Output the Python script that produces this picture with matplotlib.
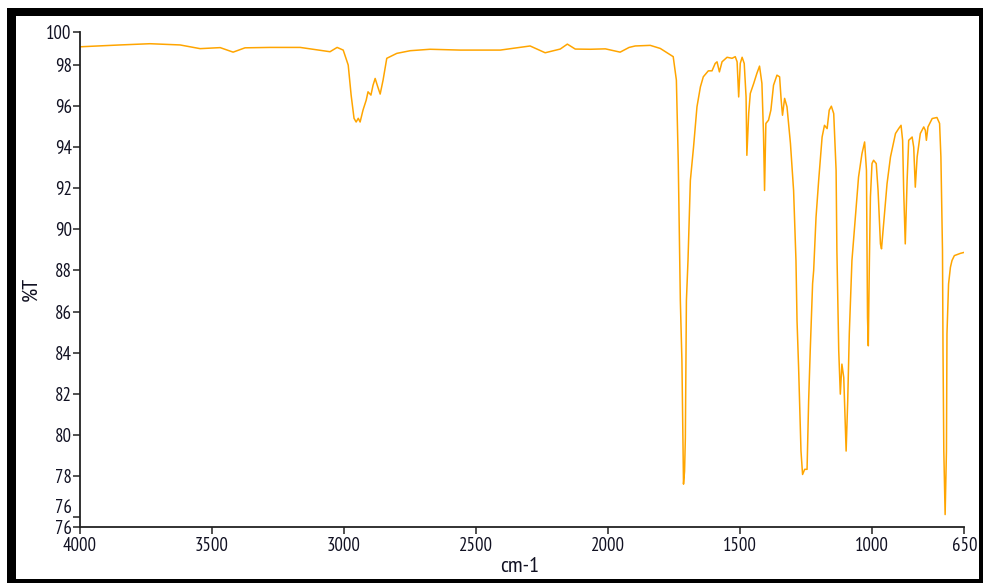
import matplotlib
matplotlib.use("Agg")
import matplotlib.pyplot as plt
from matplotlib.patches import Rectangle
from matplotlib import font_manager

# ---- data ----
wavenumber = [4000, 3848, 3735, 3621, 3545, 3469, 3420, 3375, 3280, 3166, 3053, 3026, 3003,
              2984, 2973, 2962, 2954, 2946, 2939, 2928, 2916, 2909, 2898, 2890, 2882, 2874,
              2863, 2852, 2838, 2800, 2749, 2674, 2560, 2408, 2295, 2238, 2181, 2154, 2124,
              2067, 2010, 1954, 1920, 1897, 1840, 1802, 1776, 1753, 1741, 1734, 1726, 1720,
              1717, 1714, 1710, 1707, 1703, 1697, 1688, 1676, 1663, 1650, 1639, 1620, 1606,
              1594, 1587, 1578, 1568, 1549, 1530, 1518, 1511, 1505, 1499, 1492, 1484, 1477,
              1474, 1467, 1461, 1448, 1436, 1426, 1417, 1411, 1407, 1402, 1392, 1383, 1373,
              1360, 1350, 1344, 1339, 1331, 1322, 1309, 1297, 1288, 1284, 1278, 1269, 1263,
              1255, 1246, 1240, 1234, 1225, 1221, 1212, 1202, 1189, 1180, 1170, 1162, 1154,
              1145, 1136, 1133, 1126, 1120, 1114, 1107, 1098, 1092, 1086, 1076, 1063, 1051,
              1038, 1028, 1021, 1019, 1017, 1014, 1010, 1006, 1000, 994, 984, 977, 968, 964,
              956, 943, 930, 911, 899, 890, 884, 880, 874, 867, 861, 848, 842, 836, 829, 817,
              804, 798, 794, 788, 772, 754, 744, 739, 733, 731, 728, 723, 718, 716, 710, 703,
              697, 688, 678, 665, 650]
transmittance = [98.88, 98.97, 99.03, 98.97, 98.79, 98.84, 98.62, 98.83, 98.85, 98.85, 98.64,
                 98.85, 98.72, 97.99, 96.53, 95.40, 95.22, 95.40, 95.22, 95.80, 96.28, 96.69,
                 96.53, 97.01, 97.34, 97.01, 96.58, 97.26, 98.32, 98.56, 98.69, 98.76, 98.72,
                 98.72, 98.92, 98.59, 98.77, 99.01, 98.77, 98.76, 98.78, 98.62, 98.85, 98.92,
                 98.95, 98.80, 98.59, 98.40, 97.26, 93.36, 86.53, 83.60, 80.67, 77.60, 78.23,
                 79.84, 86.53, 88.48, 92.38, 94.00, 95.96, 96.93, 97.42, 97.71, 97.71, 98.07,
                 98.15, 97.66, 98.15, 98.37, 98.32, 98.40, 98.15, 96.44, 98.07, 98.37, 98.07,
                 96.44, 93.60, 95.65, 96.61, 97.10, 97.59, 97.94, 97.10, 94.66, 91.89, 95.15,
                 95.31, 95.80, 97.01, 97.50, 97.42, 96.28, 95.55, 96.37, 95.96, 94.19, 91.89,
                 88.48, 85.55, 83.27, 79.21, 78.07, 78.32, 78.32, 81.65, 84.09, 87.36, 87.99,
                 90.59, 92.38, 94.49, 95.06, 94.90, 95.80, 95.99, 95.63, 92.87, 88.97, 84.09,
                 81.98, 83.44, 82.79, 79.21, 81.65, 84.92, 88.48, 90.59, 92.54, 93.68, 94.25,
                 92.87, 88.97, 85.71, 84.33, 88.33, 91.57, 93.20, 93.36, 93.20, 91.89, 89.29,
                 89.05, 90.27, 92.22, 93.52, 94.66, 94.90, 95.06, 94.33, 91.89, 89.29, 92.38,
                 94.33, 94.49, 94.00, 92.05, 93.52, 94.66, 94.98, 94.82, 94.33, 94.98, 95.39,
                 95.44, 95.15, 93.52, 88.97, 84.09, 79.21, 76.12, 79.21, 84.92, 87.34, 88.15,
                 88.48, 88.72, 88.77, 88.83, 88.88]

x_ticks = [4000, 3500, 3000, 2500, 2000, 1500, 1000, 650]
x_tick_labels = ["4000", "3500", "3000", "2500", "2000", "1500", "1000", "650"]
y_ticks = [75.5, 76, 78, 80, 82, 84, 86, 88, 90, 92, 94, 96, 98, 99.6]
y_tick_labels = ["76", "76", "78", "80", "82", "84", "86", "88", "90", "92", "94", "96", "98", "100"]

# prefer a narrow / condensed sans face if one is installed
narrow = None
for f in font_manager.fontManager.ttflist:
    nm = f.name.lower()
    st = str(f.stretch).lower()
    if f.style == "normal" and str(f.weight) in ("400", "normal", "regular") and \
            ("narrow" in nm or "condensed" in nm or st in ("condensed", "semi-condensed")):
        if "sans" in nm or "roboto" in nm or "liberation" in nm:
            narrow = f
            if "narrow" in nm:
                break

if narrow is not None:
    FONT = [narrow.name, "Liberation Sans", "DejaVu Sans"]
    STRETCH = narrow.stretch
    tick_fs, lab_fs = 13.5, 16
else:
    FONT = ["Liberation Sans", "DejaVu Sans"]
    STRETCH = "normal"
    tick_fs, lab_fs = 11.5, 14
plt.rcParams["font.family"] = FONT
plt.rcParams["font.stretch"] = STRETCH

W, H = 983, 583
fig = plt.figure(figsize=(W / 100, H / 100), dpi=100)
fig.patch.set_facecolor("white")

# black frame around the figure
fig.patches.append(Rectangle((7 / W, 0), 1 - 7 / W, 1 - 8 / H, transform=fig.transFigure,
                             facecolor="black", edgecolor="none", zorder=-20))
fig.patches.append(Rectangle((16 / W, 4 / H), (979 - 16) / W, (579 - 16) / H,
                             transform=fig.transFigure, facecolor="white",
                             edgecolor="none", zorder=-19))

ax = fig.add_axes([80 / W, 1 - 527.3 / H, (964.4 - 80) / W, (527.3 - 32) / H])
ax.set_facecolor("none")
ax.plot(wavenumber, transmittance, color="#FFA500", lw=1.1)

ax.set_xlim(4000, 650)
ax.set_ylim(75.5, 99.6)
ax.set_xticks(x_ticks)
ax.set_xticklabels(x_tick_labels)
ax.set_yticks(y_ticks)
ax.set_yticklabels(y_tick_labels)

for s in ("top", "right"):
    ax.spines[s].set_visible(False)
for s in ("left", "bottom"):
    ax.spines[s].set_color("#222222")
    ax.spines[s].set_linewidth(1.3)

ax.tick_params(axis="both", direction="out", length=5, width=1.1, color="#222222",
               labelsize=tick_fs, labelcolor="#111122", pad=1)
ax.tick_params(axis="x", pad=2)

# the upper "76" label sits just above its tick, as in the reference
ax.get_yticklabels()[1].set_va("bottom")

fig.text(31 / W, 1 - 289 / H, "%T", rotation=90, ha="center", va="center",
         fontsize=lab_fs, color="#111122")
fig.text(520 / W, 1 - 566 / H, "cm-1", ha="center", va="center",
         fontsize=lab_fs, color="#111122")

fig.savefig("out.png", dpi=100, facecolor="white")
